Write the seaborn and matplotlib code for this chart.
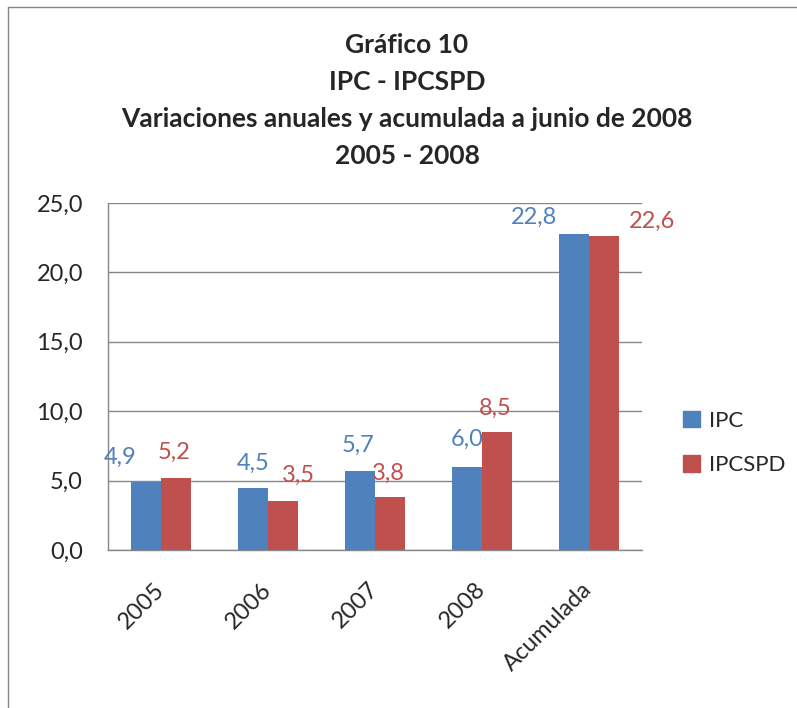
import pandas as pd
import seaborn as sns
import matplotlib.pyplot as plt
from matplotlib.lines import Line2D

# datos del gráfico
categorias = ["2005", "2006", "2007", "2008", "Acumulada"]
series = ["IPC", "IPCSPD"]
ipc = [4.9, 4.5, 5.7, 6.0, 22.8]
ipcspd = [5.2, 3.5, 3.8, 8.5, 22.6]
yticks = [0, 5, 10, 15, 20, 25]
titulo = ["Gráfico 10", "IPC - IPCSPD",
          "Variaciones anuales y acumulada a junio de 2008", "2005 - 2008"]

# desplazamiento de las etiquetas (px), como las dejó Excel
dx_ipc = [-26, 0, -2, 0, -40]
dy_ipc = [25, 24, 26, 27, 16]
dx_spd = [-2, 15, -2, -2, 49]
dy_spd = [25, 26, 24, 24, 15]

azul = "#4F81BD"
rojo = "#C0504D"
gris = "#868686"


def main():
    df = pd.DataFrame({
        "Categoria": categorias * 2,
        "Serie": [series[0]] * len(categorias) + [series[1]] * len(categorias),
        "Valor": ipc + ipcspd,
    })

    sns.set_theme(style="white")
    plt.rcParams["font.family"] = ["Lato", "DejaVu Sans"]

    fig = plt.figure(figsize=(7.97, 7.08), dpi=100)
    ax = fig.add_axes([108 / 797, 1 - 550 / 708, (642 - 108) / 797, (550 - 203) / 708])

    sns.barplot(
        data=df, x="Categoria", y="Valor", hue="Serie",
        order=categorias, hue_order=series,
        palette=[azul, rojo], width=0.56, saturation=1,
        linewidth=0, legend=False, ax=ax,
    )

    # etiquetas de valor
    for cont, dx, dy, col in zip(ax.containers, [dx_ipc, dx_spd], [dy_ipc, dy_spd], [azul, rojo]):
        for bar, ox, oy in zip(cont.patches, dx, dy):
            h = bar.get_height()
            ax.annotate(f"{h:.1f}".replace(".", ","),
                        (bar.get_x() + bar.get_width() / 2, h),
                        xytext=(ox, oy), textcoords="offset pixels",
                        ha="center", va="center", fontsize=17, color=col)

    ax.set_ylim(0, 25)
    ax.set_yticks(yticks)
    ax.set_yticklabels([f"{v:.1f}".replace(".", ",") for v in yticks], fontsize=17)
    ax.set_xticks(range(len(categorias)))
    ax.set_xticklabels(categorias, fontsize=17, rotation=45, ha="right",
                       va="center", rotation_mode="anchor")
    ax.tick_params(axis="both", length=0)
    ax.tick_params(axis="y", pad=18)
    ax.tick_params(axis="x", pad=26)
    ax.set_xlabel("")
    ax.set_ylabel("")

    ax.yaxis.grid(True, color=gris, lw=1)
    ax.set_axisbelow(True)
    sns.despine(ax=ax, top=True, right=True)
    for s in ["left", "bottom"]:
        ax.spines[s].set_color(gris)
        ax.spines[s].set_linewidth(1)

    # leyenda
    handles = [plt.Rectangle((0, 0), 1, 1, color=azul), plt.Rectangle((0, 0), 1, 1, color=rojo)]
    fig.legend(handles, series, loc="center left", bbox_to_anchor=(683 / 797, 1 - 443 / 708),
               frameon=False, fontsize=16, borderpad=0, borderaxespad=0,
               handlelength=0.75, handleheight=0.75, handletextpad=0.4, labelspacing=1.1)

    # título en cuatro líneas
    for i, linea in enumerate(titulo):
        fig.text(407 / 797, 1 - (45 + 37 * i) / 708, linea, ha="center", va="center",
                 fontsize=19, fontweight="bold")

    # marco del gráfico
    fig.add_artist(Line2D([8 / 797, 8 / 797], [0, 1 - 7 / 708], color=gris, lw=1))
    fig.add_artist(Line2D([8 / 797, 1], [1 - 7 / 708, 1 - 7 / 708], color=gris, lw=1))

    fig.savefig("out.png", dpi=100)
    plt.close(fig)


if __name__ == "__main__":
    main()
